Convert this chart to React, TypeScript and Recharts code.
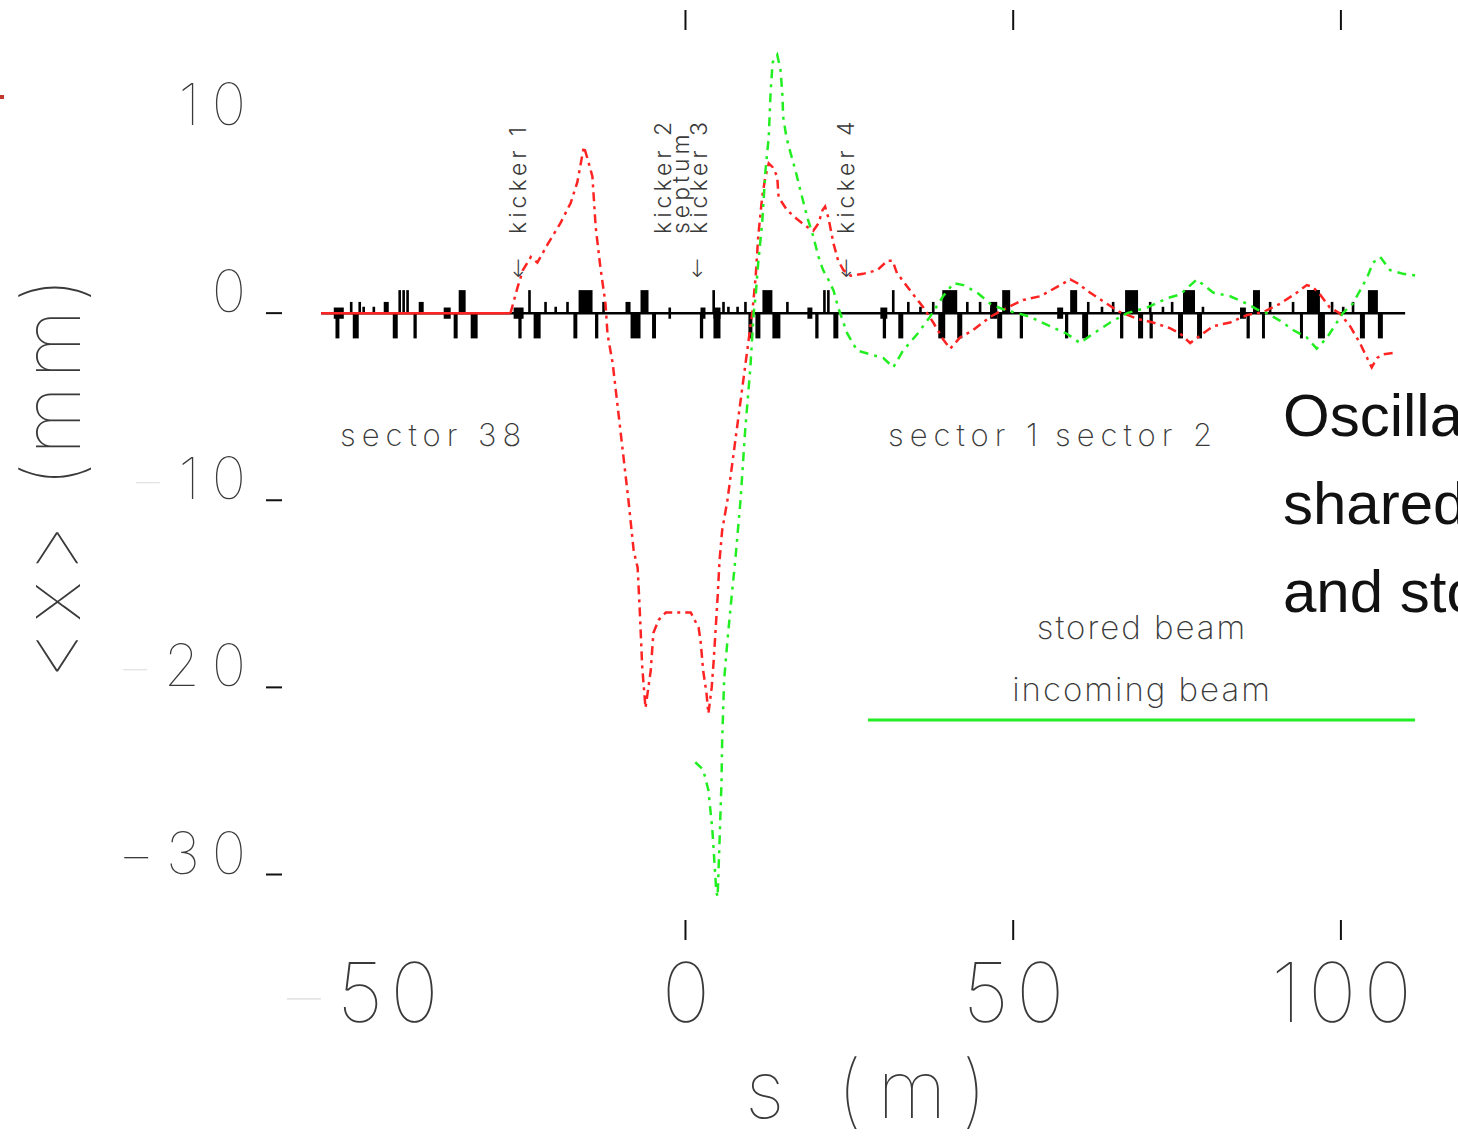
import React from 'react';
import { ComposedChart, Line, XAxis, YAxis, ReferenceArea, Legend } from 'recharts';

// axis ticks
const xTicks = [-50, 0, 50, 100];
const xMarkedTicks = [0, 50, 100];
const yTicks = [10, 0, -10, -20, -30];
const yMarkedTicks = [0, -10, -20, -30];
// ticks whose minus sign prints very faint in the plot font
const fadedMinus = [-50, -10, -20];

const legendOrder = ['stored beam', 'incoming beam'];

// beam axis through the lattice, s in m
const beamAxisS = [-55.6, 109.8];

// stored beam: unperturbed until kicker 1
const storedFlatS = [-55.6, -26.7];
const storedFlatX = [0, 0];

// stored beam orbit <x> (mm) vs s (m)
const storedS = [
  -26.7, -25.6, -24.8, -23.6, -22.6, -21.0, -19.1, -17.5, -16.5, -15.5, -14.9, -14.2, -13.7, -13.0, -12.2,
  -11.9, -11.1, -8.7, -7.9, -7.3, -7.0, -6.6, -6.1, -5.3, -4.9, -4.1, -3.0, 0.8, 2.0, 2.3, 2.7, 3.2, 3.5,
  4.0, 4.3, 4.9, 5.2, 5.6, 6.4, 8.4, 10.2, 10.7, 11.1, 11.7, 12.2, 12.7, 13.3, 14.0, 14.2, 15.5, 17.1, 18.6,
  19.5, 20.3, 20.9, 21.3, 21.8, 22.6, 23.3, 24.1, 25.2, 27.1, 29.3, 30.8, 31.6, 32.3, 32.8, 34.3, 36.3, 37.8,
  39.3, 40.4, 41.9, 43.9, 46.5, 49.1, 51.5, 54.1, 56.7, 58.7, 59.8, 61.7, 64.3, 66.3, 68.9, 71.3, 73.9, 75.5,
  77.0, 78.5, 80.5, 83.1, 85.7, 88.1, 90.7, 93.3, 94.8, 95.7, 96.8, 98.3, 99.8, 101.4, 102.9, 104.0, 104.7,
  105.5, 106.4, 108.5,
];
const storedX = [
  0, 1.4, 2.3, 3.0, 2.7, 3.7, 4.8, 5.9, 7.0, 8.9, 8.2, 7.3, 4.6, 2.5, 0.5,
  -1.1, -2.7, -10.0, -12.7, -13.6, -15.7, -18.9, -21.1, -19.1, -17.1, -16.4, -16.0, -16.0, -16.8, -17.5, -19.1, -20.3, -21.4,
  -20.0, -18.6, -15.2, -13.2, -11.6, -10.0, -4.7, 0.05, 1.9, 4.1, 6.2, 7.3, 8.0, 7.8, 7.3, 6.2, 5.5, 5.0, 4.6,
  4.4, 4.8, 5.5, 5.7, 5.1, 3.7, 2.8, 2.3, 2.0, 2.1, 2.3, 2.8, 2.8, 2.1, 1.9, 1.2, 0.3, -0.5,
  -1.4, -1.9, -1.3, -0.9, -0.2, 0.3, 0.7, 0.9, 1.4, 1.8, 1.6, 1.1, 0.5, 0.05, -0.3, -0.5, -0.8, -1.1,
  -1.6, -1.2, -0.7, -0.5, -0.1, 0.05, 0.5, 1.1, 1.5, 1.4, 1.0, 0.3, 0, -0.7, -1.6, -2.4, -2.9,
  -2.4, -2.2, -2.1,
];

// incoming beam trajectory <x> (mm) vs s (m)
const incomingS = [
  1.5, 2.7, 3.5, 4.1, 4.7, 4.9, 5.2, 5.5, 5.6, 5.9, 6.4, 7.0, 7.6, 8.4, 9.1, 9.9, 10.4, 10.7, 11.1, 11.7,
  12.2, 12.7, 13.0, 13.3, 14.0, 14.5, 14.8, 14.9, 15.4, 16.0, 16.8, 17.5, 18.6, 19.5, 20.3, 21.0, 21.8, 22.6,
  23.3, 24.1, 24.7, 26.2, 28.2, 30.2, 31.7, 33.2, 35.4, 37.3, 39.3, 40.9, 42.4, 44.5, 46.5, 48.5, 50.6, 52.6,
  55.6, 58.2, 60.2, 62.2, 64.8, 67.4, 70.4, 73.5, 75.5, 78.0, 80.5, 83.1, 85.7, 87.2, 88.7, 90.7, 92.7, 94.8,
  96.3, 97.9, 100.3, 101.8, 104.0, 104.9, 106.0, 107.5, 109.5, 111.6,
];
const incomingX = [
  -24.0, -24.4, -25.5, -27.6, -30.9, -31.2, -28.2, -25.0, -22.8, -19.6, -17.5, -15.3, -13.2, -10.0, -6.3, -2.9, 0, 0.9, 2.7, 4.8,
  7.6, 9.4, 11.9, 13.4, 13.8, 13.0, 11.6, 10.5, 9.4, 8.6, 7.6, 6.6, 5.1, 4.1, 3.0, 2.3, 1.8, 1.2,
  0.3, -0.5, -1.1, -2.0, -2.2, -2.4, -2.9, -2.0, -1.1, -0.2, 0.9, 1.6, 1.5, 1.1, 0.5, 0.2, 0, -0.2,
  -0.7, -1.1, -1.6, -1.1, -0.5, 0, 0.3, 0.8, 1.0, 1.8, 1.1, 0.9, 0.5, 0.2, 0, -0.4, -0.9, -1.3,
  -1.9, -1.3, 0, 0.5, 1.9, 2.7, 3.0, 2.3, 2.1, 2.0,
];

// lattice elements as [s start, s end] (m)
const focusQuads = [
  [-43.8, -43.4], [-43.2, -42.8], [-42.6, -42.2], [-34.6, -33.54], [-24.0, -23.6], [-16.31, -14.18],
  [-6.86, -5.64], [4.1, 4.5], [11.74, 13.26], [21.0, 21.4], [21.6, 22.0], [31.5, 31.9], [39.18, 41.46],
  [48.32, 49.54], [58.69, 59.76], [67.07, 69.05], [75.91, 77.74], [86.59, 87.65], [94.82, 96.8], [104.12, 105.64],
];
const defocusQuads = [
  [-53.4, -52.8], [-50.76, -49.85], [-44.66, -43.9], [-41.5, -41.0], [-35.37, -34.76], [-32.77, -31.71],
  [-25.5, -25.0], [-23.17, -22.1], [-17.1, -16.5], [-13.8, -13.3], [-8.38, -6.86], [-5.1, -4.5],
  [2.2, 2.7], [4.27, 5.34], [9.6, 10.21], [10.67, 11.43], [13.26, 14.48], [19.8, 20.3], [22.56, 23.32],
  [30.1, 30.6], [32.47, 33.23], [38.57, 39.63], [41.46, 42.23], [47.56, 48.32], [51.0, 51.5], [57.9, 58.4],
  [60.52, 61.43], [66.3, 66.8], [69.05, 69.82], [70.8, 71.3], [75.15, 75.91], [78.05, 78.81], [85.6, 86.1],
  [87.96, 88.41], [93.75, 94.21], [96.49, 97.56], [102.9, 103.66], [105.64, 106.4],
];
const sextupoles = [
  [-51.2, -50.8], [-49.9, -49.5], [-46.04, -45.27], [-40.7, -39.94], [-21.55, -21.15], [-18.2, -17.8],
  [-12.7, -12.3], [-9.15, -8.38], [5.6, 6.0], [8.95, 9.35], [15.35, 15.75], [33.8, 34.2], [37.6, 38.0],
  [42.8, 43.2], [44.75, 45.15], [46.49, 47.56], [61.25, 61.65], [65.05, 65.45], [70.7, 71.1], [74.05, 74.45],
  [89.0, 89.4], [92.5, 92.9], [98.45, 98.85], [101.65, 102.05],
];
const correctors = [
  [-49.3, -48.9], [-47.75, -47.35], [-20.0, -19.6], [6.35, 6.75], [7.75, 8.15], [35.65, 36.05], [63.35, 63.75],
  [72.65, 73.05], [78.75, 79.15], [100.15, 100.55],
];
const bpms = [
  [-53.66, -52.13], [-36.89, -35.82], [-26.22, -24.7], [-2.6, -2.2], [2.29, 3.05], [4.27, 5.34], [18.6, 19.36],
  [29.73, 30.79], [46.49, 47.56], [56.71, 57.62], [84.6, 85.5],
];

// element heights above/below the axis (mm)
const focusTop = 1.23;
const defocusBottom = -1.35;
const sextTop = 0.6;
const corrTop = 0.34;
const bpmHalf = 0.3;

const beamAxisData = beamAxisS.map((s) => ({ s, x: 0 }));
const storedFlatData = storedFlatS.map((s, i) => ({ s, x: storedFlatX[i] }));
const storedData = storedS.map((s, i) => ({ s, x: storedX[i] }));
const incomingData = incomingS.map((s, i) => ({ s, x: incomingX[i] }));

const plotFont = 'Inter, "DejaVu Sans", sans-serif';
const ink = '#3a3a3a';
const faint = '#e4e4e4';
const red = '#ff2424';
const green = '#22ee22';

const TickText = ({ value }: { value: number }) => {
  const digits = String(Math.abs(value));
  if (value >= 0) return <>{digits}</>;
  return (
    <>
      <tspan fill={fadedMinus.includes(value) ? faint : ink}>{'\u2212'}</tspan>
      {digits}
    </>
  );
};

const BottomTick = ({ x, y, payload }: any) => (
  <g>
    {xMarkedTicks.includes(payload.value) && (
      <line x1={x} x2={x} y1={y} y2={y - 20} stroke="#111" strokeWidth={2} />
    )}
    <text
      x={x + 4}
      y={y + 82}
      textAnchor="middle"
      fontFamily={plotFont}
      fontWeight={100}
      fontSize={82}
      letterSpacing={7}
      fill={ink}
    >
      <TickText value={payload.value} />
    </text>
  </g>
);

const TopTick = ({ x, y, payload }: any) =>
  xMarkedTicks.includes(payload.value) ? (
    <line x1={x} x2={x} y1={y} y2={y + 20} stroke="#111" strokeWidth={2} />
  ) : null;

const LeftTick = ({ x, y, payload }: any) => (
  <g>
    {yMarkedTicks.includes(payload.value) && (
      <line x1={x} x2={x + 16} y1={y} y2={y} stroke="#111" strokeWidth={2} />
    )}
    <text
      x={x - 8}
      y={y - 1}
      textAnchor="end"
      fontFamily={plotFont}
      fontWeight={100}
      fontSize={58}
      letterSpacing={12}
      fill={ink}
    >
      <TickText value={payload.value} />
    </text>
  </g>
);

const RightTick = ({ x, y, payload }: any) =>
  yMarkedTicks.includes(payload.value) ? (
    <line x1={x - 16} x2={x} y1={y} y2={y} stroke="#111" strokeWidth={2} />
  ) : null;

const BeamLegend = ({ payload }: any) => {
  const items = (payload || [])
    .filter((p: any) => legendOrder.includes(p.value))
    .sort((a: any, b: any) => legendOrder.indexOf(a.value) - legendOrder.indexOf(b.value));
  return (
    <svg width={570} height={135} style={{ overflow: 'visible' }}>
      {items.map((p: any, i: number) => (
        <text
          key={p.value}
          x={282}
          y={40 + i * 62}
          textAnchor="middle"
          fontFamily={plotFont}
          fontWeight={200}
          fontSize={33}
          letterSpacing={2}
          fill={ink}
        >
          {p.value}
        </text>
      ))}
      <line x1={8} x2={555} y1={121} y2={121} stroke={green} strokeWidth={3} />
    </svg>
  );
};

const Kicker = ({ x, lines }: { x: number; lines: string[] }) => (
  <g>
    {lines.map((t, i) => (
      <text
        key={t}
        transform={`translate(${x + i * 18}, 234) rotate(-90)`}
        fontFamily={plotFont}
        fontWeight={300}
        fontSize={23}
        letterSpacing={4}
        fill={ink}
      >
        {t}
      </text>
    ))}
  </g>
);

export default function App() {
  return (
    <div
      style={{
        position: 'absolute',
        left: 0,
        top: 0,
        width: 1458,
        height: 1136,
        overflow: 'hidden',
        background: '#fff',
      }}
    >
      <ComposedChart width={1480} height={1136} margin={{ top: 0, right: 0, bottom: 0, left: 0 }}>
        <XAxis
          dataKey="s"
          type="number"
          domain={[-64, 120]}
          ticks={xTicks}
          allowDataOverflow
          axisLine={false}
          tickLine={false}
          tickSize={0}
          tickMargin={0}
          height={196}
          tick={<BottomTick />}
          interval={0}
        />
        <XAxis
          xAxisId="top"
          orientation="top"
          dataKey="s"
          type="number"
          domain={[-64, 120]}
          ticks={xTicks}
          allowDataOverflow
          axisLine={false}
          tickLine={false}
          tickSize={0}
          tickMargin={0}
          height={10}
          tick={<TopTick />}
          interval={0}
        />
        <YAxis
          type="number"
          domain={[-33.5, 16.2]}
          ticks={yTicks}
          allowDataOverflow
          axisLine={false}
          tickLine={false}
          tickSize={0}
          tickMargin={0}
          width={266}
          tick={<LeftTick />}
          interval={0}
        />
        <YAxis
          yAxisId="right"
          orientation="right"
          type="number"
          domain={[-33.5, 16.2]}
          ticks={yTicks}
          axisLine={false}
          tickLine={false}
          tickSize={0}
          tickMargin={0}
          width={8}
          tick={<RightTick />}
          interval={0}
        />

        {focusQuads.map(([a, b]) => (
          <ReferenceArea key={'f' + a} x1={a} x2={b} y1={0} y2={focusTop} fill="#000" fillOpacity={1} stroke="none" ifOverflow="visible" />
        ))}
        {defocusQuads.map(([a, b]) => (
          <ReferenceArea key={'d' + a} x1={a} x2={b} y1={defocusBottom} y2={0} fill="#000" fillOpacity={1} stroke="none" ifOverflow="visible" />
        ))}
        {sextupoles.map(([a, b]) => (
          <ReferenceArea key={'s' + a} x1={a} x2={b} y1={0} y2={sextTop} fill="#000" fillOpacity={1} stroke="none" ifOverflow="visible" />
        ))}
        {correctors.map(([a, b]) => (
          <ReferenceArea key={'c' + a} x1={a} x2={b} y1={0} y2={corrTop} fill="#000" fillOpacity={1} stroke="none" ifOverflow="visible" />
        ))}
        {bpms.map(([a, b]) => (
          <ReferenceArea key={'b' + a} x1={a} x2={b} y1={-bpmHalf} y2={bpmHalf} fill="#000" fillOpacity={1} stroke="none" ifOverflow="visible" />
        ))}

        <Line data={beamAxisData} dataKey="x" type="linear" stroke="#000" strokeWidth={2.5} dot={false} legendType="none" isAnimationActive={false} />
        <Line data={storedFlatData} dataKey="x" type="linear" stroke={red} strokeWidth={2.5} dot={false} legendType="none" isAnimationActive={false} />
        <Line
          data={storedData}
          dataKey="x"
          name="stored beam"
          type="linear"
          stroke={red}
          strokeWidth={2.5}
          strokeDasharray="9 5 3 5"
          dot={false}
          isAnimationActive={false}
        />
        <Line
          data={incomingData}
          dataKey="x"
          name="incoming beam"
          type="linear"
          stroke={green}
          strokeWidth={2.5}
          strokeDasharray="9 6 3 6"
          dot={false}
          isAnimationActive={false}
        />
        <Legend
          layout="horizontal"
          verticalAlign="middle"
          align="center"
          content={<BeamLegend />}
          wrapperStyle={{ left: 860, top: 599, width: 570, height: 135, position: 'absolute' }}
        />
      </ComposedChart>

      {/* annotations and axis titles */}
      <svg
        width={1458}
        height={1136}
        style={{ position: 'absolute', left: 0, top: 0, pointerEvents: 'none' }}
      >
        <Kicker x={526} lines={['kicker 1']} />
        <Kicker x={671} lines={['kicker 2', 'septum', 'kicker 3']} />
        <Kicker x={854} lines={['kicker 4']} />
        {[518, 697, 846].map((ax) => (
          <text key={ax} x={ax} y={277} textAnchor="middle" fontFamily="DejaVu Sans" fontWeight={200} fontSize={24} fill={ink}>
            {'\u2193'}
          </text>
        ))}

        <text x={340} y={446} fontFamily={plotFont} fontWeight={200} fontSize={31} letterSpacing={6} fill={ink}>
          sector 38
        </text>
        <text x={888} y={446} fontFamily={plotFont} fontWeight={200} fontSize={31} letterSpacing={6} fill={ink}>
          sector 1
        </text>
        <text x={1055} y={446} fontFamily={plotFont} fontWeight={200} fontSize={31} letterSpacing={6} fill={ink}>
          sector 2
        </text>

        <text
          transform="translate(80, 475) rotate(-90)"
          textAnchor="middle"
          fontFamily={plotFont}
          fontWeight={100}
          fontSize={80}
          letterSpacing={7}
          fill={ink}
        >
          {'<x> (mm)'}
        </text>
        <text x={745} y={1118} fontFamily={plotFont} fontWeight={100} fontSize={80} letterSpacing={15} fill={ink}>
          s (m)
        </text>
      </svg>

      <div style={{ position: 'absolute', left: 0, top: 95, width: 4, height: 4, background: '#c0392b' }} />
      <div
        style={{
          position: 'absolute',
          left: 1283,
          top: 372,
          fontFamily: '"Liberation Sans", Arial, sans-serif',
          fontSize: 60,
          lineHeight: '88px',
          color: '#111',
          whiteSpace: 'nowrap',
        }}
      >
        <div>Oscillations of the</div>
        <div>shared orbit</div>
        <div>and stored beam</div>
      </div>
    </div>
  );
}
